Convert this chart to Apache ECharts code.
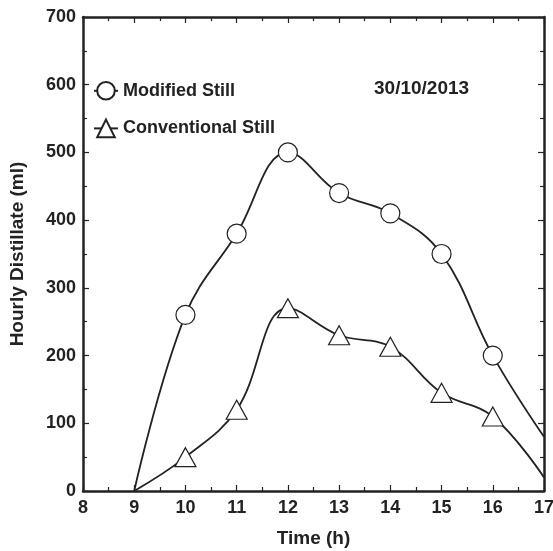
<!DOCTYPE html>
<html>
<head>
<meta charset="utf-8">
<script src="https://cdn.jsdelivr.net/npm/echarts@6/dist/echarts.min.js"></script>
<style>
  html, body {margin: 0; padding: 0; background: #fff;}
  #chart {width: 553px; height: 551px;}
</style>
</head>
<body>
<div id="chart"></div>
<script>
// hours of the day
const hours = [9, 10, 11, 12, 13, 14, 15, 16, 17];
// hourly distillate (ml)
const modifiedStill = [0, 260, 380, 500, 440, 410, 350, 200, 80];
const conventionalStill = [0, 50, 120, 270, 230, 213, 145, 110, 20];
const dateLabel = '30/10/2013';

const chart = echarts.init(document.getElementById('chart'));
const font = 'Liberation Sans, Arial, sans-serif';
const ink = '#222';

// no marker on the first and last point
function toData(values) {
    return values.map((v, i) => {
        const p = {value: [hours[i], v]};
        if (i === 0 || i === values.length - 1) p.symbol = 'none';
        return p;
    });
}

const baseAxis = {
    axisLine: {show: true, onZero: false, lineStyle: {color: ink, width: 2.5}},
    axisTick: {show: true, inside: true, length: 6, lineStyle: {color: ink, width: 1.2}},
    minorTick: {show: true, splitNumber: 2, length: 4, lineStyle: {color: ink, width: 1.2}},
    splitLine: {show: false},
    axisLabel: {color: ink, fontSize: 18, fontWeight: 'bold', fontFamily: font}
};
const nameStyle = {color: ink, fontSize: 19, fontWeight: 'bold', fontFamily: font};

let option = {
    animation: false,
    grid: {left: 83, right: 9, top: 17, bottom: 60, outerBoundsMode: 'none', containLabel: false},
    legend: {
        orient: 'vertical',
        left: 93,
        top: 81,
        padding: 0,
        itemGap: 18,
        itemWidth: 24,
        itemHeight: 22,
        textStyle: {color: ink, fontSize: 18, fontWeight: 'bold', fontFamily: font},
        data: ['Modified Still', 'Conventional Still']
    },
    graphic: [{
        type: 'text',
        left: 374,
        top: 79,
        style: {text: dateLabel, fill: ink, font: 'bold 19px ' + font}
    }],
    xAxis: [
        Object.assign({}, baseAxis, {
            type: 'value', min: 8, max: 17, interval: 1,
            name: 'Time (h)', nameLocation: 'middle', nameGap: 38,
            nameTextStyle: nameStyle,
            axisLabel: Object.assign({}, baseAxis.axisLabel, {margin: 8, showMaxLabel: true})
        }),
        Object.assign({}, baseAxis, {
            type: 'value', min: 8, max: 17, interval: 1, position: 'top',
            axisLabel: {show: false}
        })
    ],
    yAxis: [
        Object.assign({}, baseAxis, {
            type: 'value', min: 0, max: 700, interval: 100,
            name: 'Hourly Distillate (ml)', nameLocation: 'middle', nameGap: 56,
            nameTextStyle: nameStyle,
            axisLabel: Object.assign({}, baseAxis.axisLabel, {margin: 7})
        }),
        Object.assign({}, baseAxis, {
            type: 'value', min: 0, max: 700, interval: 100, position: 'right',
            axisLabel: {show: false}
        })
    ],
    series: [
        {
            name: 'Modified Still',
            type: 'line',
            smooth: 0.4,
            symbol: 'circle',
            symbolSize: 19,
            lineStyle: {color: ink, width: 1.8},
            itemStyle: {color: '#fff', borderColor: ink, borderWidth: 1.2},
            data: toData(modifiedStill)
        },
        {
            name: 'Conventional Still',
            type: 'line',
            smooth: 0.4,
            symbol: 'triangle',
            symbolSize: [21, 19],
            lineStyle: {color: ink, width: 1.8},
            itemStyle: {color: '#fff', borderColor: ink, borderWidth: 1.2},
            data: toData(conventionalStill)
        }
    ]
};
chart.setOption(option);
</script>
</body>
</html>
